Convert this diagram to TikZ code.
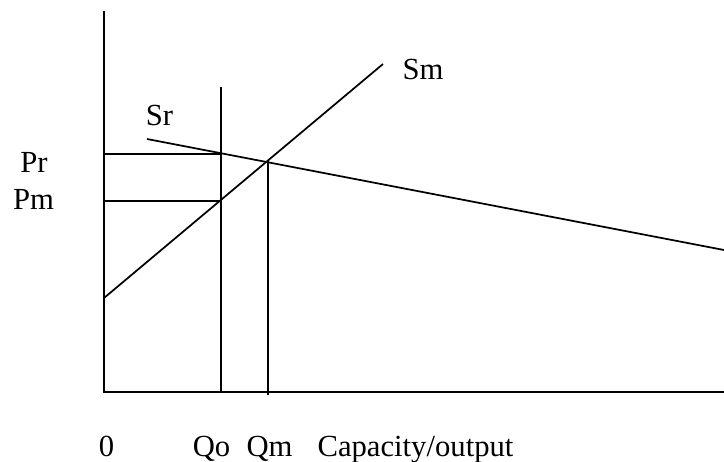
\documentclass[tikz,border=0pt]{standalone}
\usepackage{fontspec}
\setmainfont{Liberation Serif}
\begin{document}
\begin{tikzpicture}[x=0.75pt,y=-0.75pt,line width=1.3pt,
  lab/.style={anchor=base,inner sep=0pt,font=\fontsize{23}{27}\selectfont}]
\useasboundingbox (0,0) rectangle (724,461);
% axes
\coordinate (top) at (104,11);
\coordinate (O) at (104,392);
\coordinate (right) at (724,392);
\draw (top) -- (O) -- (right);

% supply curves
\coordinate (sm0) at (104,298);
\coordinate (sm1) at (383,64);
\coordinate (sr0) at (147,139);
\coordinate (sr1) at (724,250);
\draw (sm0) -- (sm1);
\draw (sr0) -- (sr1);

% quantities and prices
\coordinate (qotop) at (221,87);
\coordinate (qobot) at (221,392);
\coordinate (qmtop) at (268,161);
\coordinate (qmbot) at (268,395);
\draw (qotop) -- (qobot);
\draw (qmtop) -- (qmbot);
\coordinate (pr) at (104,154);
\coordinate (pm) at (104,201);
\draw (pr) -- (221,154);
\draw (pm) -- (221,201);

\node[lab] (smlab) at (423,79) {Sm};
\node[lab] (srlab) at (159.5,125) {Sr};
\node[lab] (prlab) at (34,172) {Pr};
\node[lab] (pmlab) at (33.5,209) {Pm};
\foreach \x/\t/\n in {106.5/0/zero,211.5/Qo/qo,269.5/Qm/qm,415.5/Capacity\slash output/cap}
  \node[lab] (\n lab) at (\x,456) {\t};
\end{tikzpicture}
\end{document}
